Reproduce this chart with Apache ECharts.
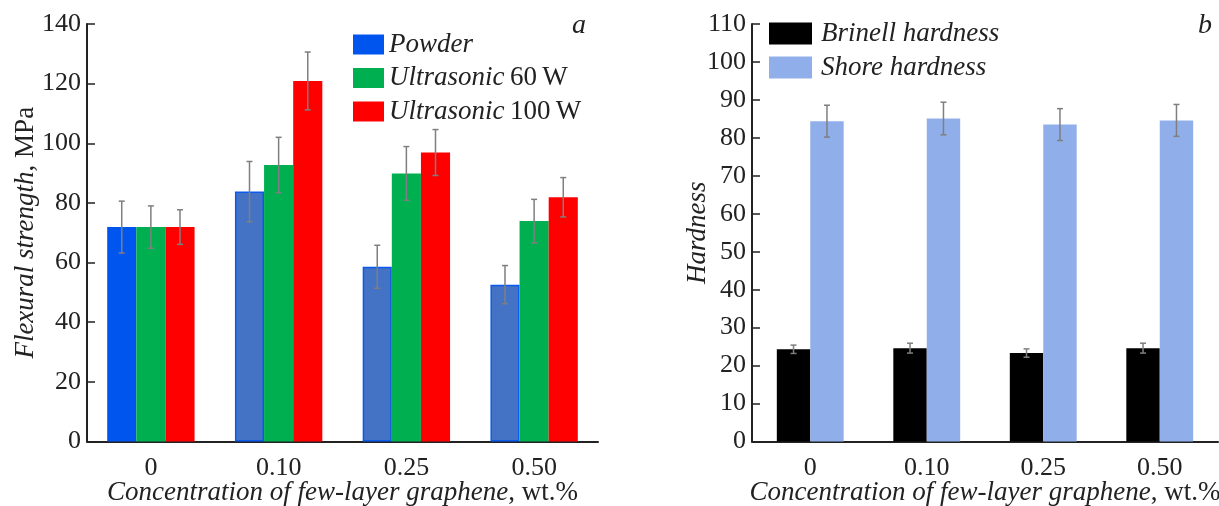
<!DOCTYPE html>
<html><head><meta charset="utf-8">
<script src="https://cdn.jsdelivr.net/npm/echarts@6/dist/echarts.min.js"></script>
<style>html,body{margin:0;padding:0;background:#fff}#c{width:1219px;height:506px}</style>
</head><body><div id="c"></div>
<script>
// ---- data ----
const categories = ['0', '0.10', '0.25', '0.50'];
// panel a: flexural strength, MPa
const powder = [71.9, 83.8, 58.6, 52.6];
const powderErr = [8.7, 10.1, 7.2, 6.4];
const us60 = [71.9, 92.7, 89.9, 73.9];
const us60Err = [7.1, 9.3, 9.0, 7.3];
const us100 = [71.9, 120.9, 96.9, 81.9];
const us100Err = [5.8, 9.7, 7.7, 6.6];
// panel b: hardness
const brinell = [24.3, 24.6, 23.3, 24.6];
const brinellErr = [1.1, 1.3, 1.1, 1.3];
const shore = [84.4, 85.1, 83.5, 84.6];
const shoreErr = [4.2, 4.3, 4.2, 4.2];
const yTicksA = [0, 20, 40, 60, 80, 100, 120, 140];
const yTicksB = [0, 10, 20, 30, 40, 50, 60, 70, 80, 90, 100, 110];

const FONT = "'Liberation Serif','Times New Roman',serif";
const TXT = '#222';
const BAR_A = 0.228, BAR_B = 0.287;

function errSeries(name, xi, vals, errs, offset, frac) {
  return {
    type: 'custom', name: name, xAxisIndex: xi, yAxisIndex: xi, z: 10,
    silent: true,
    data: vals.map((v, i) => [i, v, errs[i]]),
    encode: { x: 0, y: 1 },
    renderItem: function (params, api) {
      const i = api.value(0), v = api.value(1), e = api.value(2);
      const band = api.size([1, 0])[0];
      const top = api.coord([i, v + e]);
      const bot = api.coord([i, v - e]);
      const x = top[0] + offset * band * frac;
      const cap = 3;
      const st = { stroke: '#7f7f7f', lineWidth: 1.5 };
      return { type: 'group', children: [
        { type: 'line', shape: { x1: x, y1: top[1], x2: x, y2: bot[1] }, style: st },
        { type: 'line', shape: { x1: x - cap, y1: top[1], x2: x + cap, y2: top[1] }, style: st },
        { type: 'line', shape: { x1: x - cap, y1: bot[1], x2: x + cap, y2: bot[1] }, style: st }
      ]};
    }
  };
}

const richTxt = {
  i: { fontFamily: FONT, fontStyle: 'italic', fontSize: 27, color: TXT },
  n: { fontFamily: FONT, fontSize: 27, color: TXT }
};

function xAxisCfg(gi) {
  return {
    type: 'category', gridIndex: gi, data: categories,
    axisLine: { lineStyle: { color: '#222', width: 2 } },
    axisTick: { inside: true, length: 9, lineStyle: { color: '#222', width: 1.5 } },
    axisLabel: { fontFamily: FONT, fontSize: 26, color: TXT, margin: 14 },
    name: '{i|Concentration of few-layer graphene}{n|, wt.%}',
    nameLocation: 'middle', nameGap: 38, nameMoveOverlap: false,
    nameTextStyle: { rich: richTxt }
  };
}
function yAxisCfg(gi, max, interval, name, gap, ticks) {
  return {
    type: 'value', gridIndex: gi, min: 0, max: max, interval: interval,
    axisLine: { show: true, lineStyle: { color: '#222', width: 2 } },
    axisTick: { show: true, inside: true, length: 8, lineStyle: { color: '#222', width: 1.5 } },
    splitLine: { show: false },
    axisLabel: { fontFamily: FONT, fontSize: 26, color: TXT, margin: 6,
      formatter: v => ticks.indexOf(v) >= 0 ? String(v) : '' },
    name: name, nameLocation: 'middle', nameGap: gap, nameMoveOverlap: false,
    nameTextStyle: { rich: richTxt }
  };
}

const powderData = powder.map((v, i) => i === 0 ? v : {
  value: v, itemStyle: { color: '#4472C4', borderColor: '#0a5af0', borderWidth: 1.5 }
});

const option = {
  animation: false,
  backgroundColor: '#fff',
  grid: [
    { left: 87, right: 621, top: 24, bottom: 64.5, outerBoundsMode: 'none', containLabel: false },
    { left: 752, right: 1, top: 24, bottom: 64.5, outerBoundsMode: 'none', containLabel: false }
  ],
  xAxis: [xAxisCfg(0), xAxisCfg(1)],
  yAxis: [
    yAxisCfg(0, 140, 20, '{i|Flexural strength}{n|, MPa}', 48, yTicksA),
    yAxisCfg(1, 110, 10, '{i|Hardness}', 41, yTicksB)
  ],
  legend: [
    { left: 353, top: 31, padding: 0, orient: 'vertical', itemWidth: 31, itemHeight: 20, itemGap: 6.5,
      icon: 'rect', data: ['Powder', 'Ultrasonic 60 W', 'Ultrasonic 100 W'],
      selectedMode: false,
      formatter: n => n === 'Powder' ? '{i|Powder}' : '{i|Ultrasonic}{n|\u2009' + n.replace('Ultrasonic ', '').replace(' ', '\u2009') + '}',
      textStyle: { rich: richTxt } },
    { left: 769, top: 20, padding: 0, orient: 'vertical', itemWidth: 43, itemHeight: 22, itemGap: 7,
      icon: 'rect', data: ['Brinell hardness', 'Shore hardness'],
      selectedMode: false,
      formatter: n => '{i|' + n + '}',
      textStyle: { rich: richTxt, padding: [0, 0, 0, 4] } }
  ],
  graphic: [
    { type: 'text', left: 572, top: 12, style: { text: 'a', font: 'italic 28px ' + FONT, fill: TXT } },
    { type: 'text', left: 1198, top: 12, style: { text: 'b', font: 'italic 28px ' + FONT, fill: TXT } }
  ],
  series: [
    { type: 'bar', name: 'Powder', xAxisIndex: 0, yAxisIndex: 0, data: powderData,
      barWidth: (BAR_A * 100) + '%', barGap: '0%',
      itemStyle: { color: '#0055EE' } },
    { type: 'bar', name: 'Ultrasonic 60 W', xAxisIndex: 0, yAxisIndex: 0, data: us60,
      barWidth: (BAR_A * 100) + '%', barGap: '0%', itemStyle: { color: '#00B050' } },
    { type: 'bar', name: 'Ultrasonic 100 W', xAxisIndex: 0, yAxisIndex: 0, data: us100,
      barWidth: (BAR_A * 100) + '%', barGap: '0%', itemStyle: { color: '#FF0000' } },
    errSeries('e1', 0, powder, powderErr, -1, BAR_A),
    errSeries('e2', 0, us60, us60Err, 0, BAR_A),
    errSeries('e3', 0, us100, us100Err, 1, BAR_A),
    { type: 'bar', name: 'Brinell hardness', xAxisIndex: 1, yAxisIndex: 1, data: brinell,
      barWidth: (BAR_B * 100) + '%', barGap: '0%',
      itemStyle: { color: '#000000' } },
    { type: 'bar', name: 'Shore hardness', xAxisIndex: 1, yAxisIndex: 1, data: shore,
      barWidth: (BAR_B * 100) + '%', barGap: '0%', itemStyle: { color: '#90AFEA' } },
    errSeries('e4', 1, brinell, brinellErr, -0.5, BAR_B),
    errSeries('e5', 1, shore, shoreErr, 0.5, BAR_B)
  ]
};
const chart = echarts.init(document.getElementById('c'), null, { renderer: 'canvas' });
chart.setOption(option);
</script></body></html>
